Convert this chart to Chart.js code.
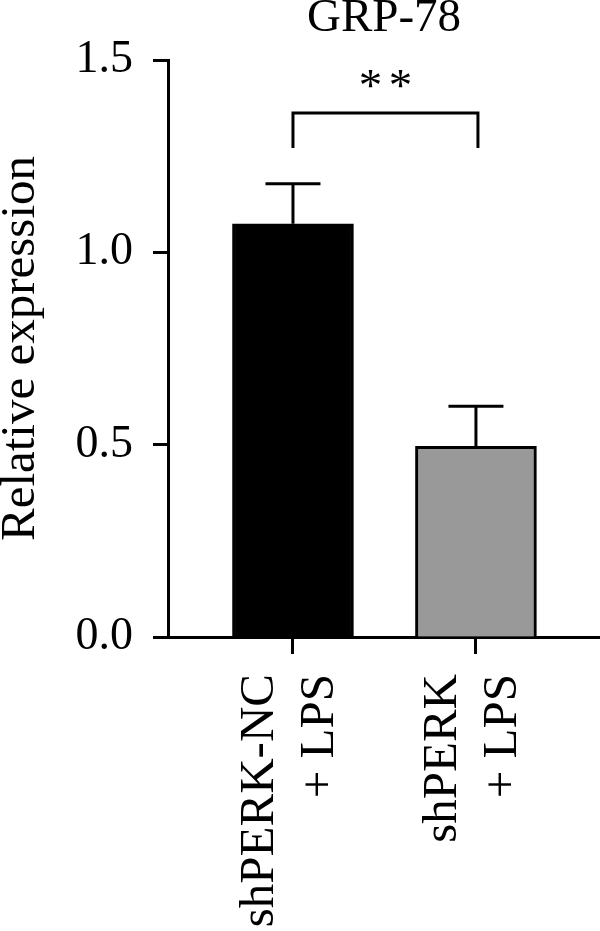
<!DOCTYPE html>
<html>
<head>
<meta charset="utf-8">
<script src="https://cdn.jsdelivr.net/npm/chart.js@4.4.1/dist/chart.umd.min.js"></script>
<style>
  html, body { margin: 0; padding: 0; background: #fff; }
  canvas { display: block; }
</style>
</head>
<body>
<canvas id="chart" width="600" height="931"></canvas>
<script>
// GRP-78 relative expression

const categories = [['shPERK-NC', '+ LPS'], ['shPERK', '+ LPS']];
const means = [1.074, 0.496];
const errors = [0.104, 0.104];
const barColors = ['#000000', '#999999'];
const yTicks = [0, 0.5, 1.0, 1.5];
const sigPair = [0, 1];
const sigLevel = 1.362;   // bracket top
const sigLeg = 1.271;     // bracket leg end
const sigText = '**';
const sigTextLevel = 1.425;

const FONT = "'Liberation Serif', 'Times New Roman', serif";

// error bars (upper only) drawn after the bars
const errorBars = {
    id: 'errorBars',
    afterDatasetsDraw(chart) {
        const { ctx, scales: { x, y } } = chart;
        ctx.save();
        ctx.strokeStyle = '#000';
        ctx.lineWidth = 3;
        means.forEach((m, i) => {
            const px = x.getPixelForValue(i);
            const yBase = y.getPixelForValue(m);
            const yTop = y.getPixelForValue(m + errors[i]);
            ctx.beginPath();
            ctx.moveTo(px, yBase);
            ctx.lineTo(px, yTop);
            ctx.moveTo(px - 27.5, yTop);
            ctx.lineTo(px + 27.5, yTop);
            ctx.stroke();
        });
        ctx.restore();
    }
};

// significance bracket
const sigBracket = {
    id: 'sigBracket',
    afterDraw(chart) {
        const { ctx, scales: { x, y } } = chart;
        const x1 = x.getPixelForValue(sigPair[0]);
        const x2 = x.getPixelForValue(sigPair[1]) + 2;
        const yt = y.getPixelForValue(sigLevel);
        const yl = y.getPixelForValue(sigLeg);
        ctx.save();
        ctx.strokeStyle = '#000';
        ctx.lineWidth = 3;
        ctx.beginPath();
        ctx.moveTo(x1, yl);
        ctx.lineTo(x1, yt);
        ctx.lineTo(x2, yt);
        ctx.lineTo(x2, yl);
        ctx.stroke();
        // the two stars, set a little apart
        ctx.fillStyle = '#000';
        ctx.font = '47px ' + FONT;
        ctx.textAlign = 'center';
        ctx.textBaseline = 'middle';
        const cx = (x1 + x2) / 2;
        const ty = y.getPixelForValue(sigTextLevel);
        sigText.split('').forEach((ch, i, arr) => {
            ctx.fillText(ch, cx + (i - (arr.length - 1) / 2) * 30, ty);
        });
        ctx.restore();
    }
};

new Chart(document.getElementById('chart'), {
    type: 'bar',
    data: {
        datasets: [{
            data: means.map((v, i) => ({ x: i, y: v })),
            backgroundColor: barColors,
            borderColor: '#000',
            borderWidth: 3,
            borderSkipped: 'bottom',
            barThickness: 121
        }]
    },
    options: {
        responsive: false,
        devicePixelRatio: 1,
        animation: false,
        layout: { padding: 0 },
        plugins: {
            legend: { display: false },
            tooltip: { enabled: false },
            title: {
                display: true,
                text: 'GRP-78',
                fullSize: false,
                color: '#000',
                font: { family: FONT, size: 47, weight: 'normal', lineHeight: 0.8 },
                padding: { top: 0, bottom: 22.4 }
            }
        },
        scales: {
            x: {
                type: 'linear',
                min: -0.683,
                max: 1.678,
                offset: false,
                afterBuildTicks(scale) {
                    scale.ticks = categories.map((c, i) => ({ value: i }));
                },
                afterFit(scale) {
                    scale.height = 294;
                    scale.paddingLeft = 0;
                    scale.paddingRight = 0;
                },
                grid: {
                    offset: false,
                    drawOnChartArea: false,
                    drawTicks: true,
                    tickLength: 17,
                    tickWidth: 3,
                    tickColor: '#000'
                },
                border: { display: true, color: '#000', width: 3 },
                ticks: {
                    autoSkip: false,
                    minRotation: 90,
                    maxRotation: 90,
                    padding: 20,
                    labelOffset: -33,
                    color: '#000',
                    font: { family: FONT, size: 49, lineHeight: 1.225 },
                    callback: (v) => categories[v]
                }
            },
            y: {
                min: 0,
                max: 1.5,
                afterBuildTicks(scale) {
                    scale.ticks = yTicks.map(v => ({ value: v }));
                },
                afterFit(scale) {
                    scale.width = 168;
                    scale.paddingTop = 0;
                    scale.paddingBottom = 0;
                },
                grid: {
                    drawOnChartArea: false,
                    drawTicks: true,
                    tickLength: 15,
                    tickWidth: 3,
                    tickColor: '#000'
                },
                border: { display: true, color: '#000', width: 3 },
                ticks: {
                    padding: 20,
                    color: '#000',
                    font: { family: FONT, size: 46 },
                    callback: (v) => v.toFixed(1)
                },
                title: {
                    display: true,
                    text: 'Relative expression',
                    color: '#000',
                    font: { family: FONT, size: 49, lineHeight: 0.85 },
                    padding: { top: 0, bottom: 0 }
                }
            }
        }
    },
    plugins: [errorBars, sigBracket]
});
</script>
</body>
</html>
